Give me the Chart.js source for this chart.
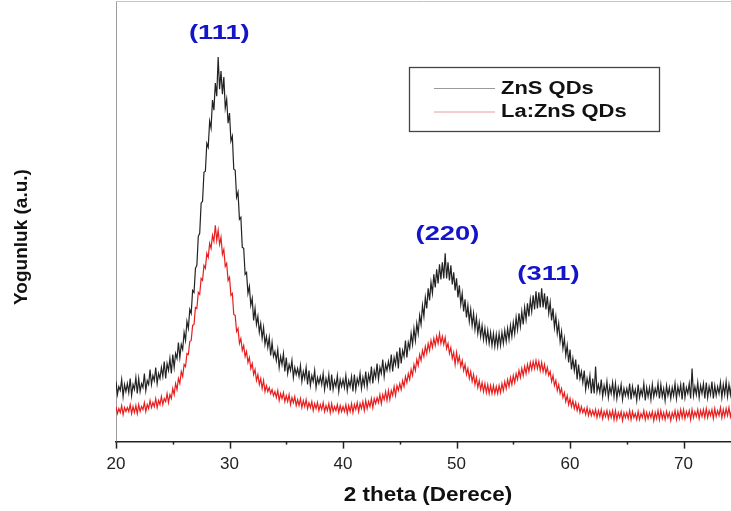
<!DOCTYPE html>
<html>
<head>
<meta charset="utf-8">
<script src="https://cdn.jsdelivr.net/npm/chart.js"></script>
<style>
    body { margin: 0; background: #fff; }
    canvas { display: block; }
</style>
</head>
<body>
<canvas id="xrdCanvas" width="731" height="511"></canvas>
<script>
// scan grid: 2 theta from 20 degrees in 0.125 degree steps
const thetaStart = 20;
const thetaStep = 0.125;

const seriesNames = ['ZnS QDs', 'La:ZnS QDs'];
const seriesColors = ['rgba(10,10,10,0.9)', 'rgba(230,18,18,0.95)'];
const legendLineColors = ['#9a9a9a', '#e89a9a'];

// intensity (a.u.), one row per degree
const znsCounts = [
    60, 47, 55, 51, 62, 45, 57, 50,
    58, 49, 63, 46, 57, 52, 64, 48,
    63, 50, 58, 54, 68, 51, 61, 57,
    72, 57, 66, 61, 74, 58, 68, 63,
    74, 65, 80, 63, 78, 71, 83, 68,
    87, 74, 88, 83, 99, 84, 97, 92,
    109, 101, 120, 113, 132, 128, 151, 149,
    173, 176, 205, 208, 238, 240, 269, 270,
    298, 294, 320, 313, 341, 331, 358, 345,
    384, 352, 370, 347, 364, 333, 342, 318,
    328, 300, 305, 272, 271, 244, 249, 222,
    224, 194, 193, 167, 169, 148, 155, 136,
    143, 121, 133, 117, 125, 109, 118, 103,
    114, 97, 105, 94, 104, 86, 99, 85,
    90, 81, 92, 74, 85, 77, 88, 70,
    84, 68, 77, 71, 81, 64, 74, 67,
    73, 65, 76, 60, 70, 63, 74, 57,
    71, 56, 66, 60, 71, 54, 64, 58,
    65, 57, 68, 52, 63, 56, 67, 51,
    67, 52, 61, 55, 66, 50, 62, 55,
    62, 54, 66, 51, 61, 55, 65, 50,
    67, 52, 63, 57, 68, 53, 64, 56,
    70, 55, 67, 60, 75, 58, 71, 64,
    78, 62, 74, 68, 82, 65, 77, 71,
    80, 72, 87, 70, 84, 77, 90, 73,
    94, 78, 91, 85, 101, 84, 99, 93,
    108, 97, 113, 101, 118, 108, 126, 117,
    136, 125, 144, 133, 153, 141, 159, 148,
    167, 154, 172, 158, 177, 162, 179, 163,
    188, 163, 179, 161, 176, 157, 169, 151,
    163, 144, 156, 137, 148, 130, 142, 124,
    136, 120, 132, 116, 128, 112, 124, 108,
    119, 105, 116, 102, 113, 100, 111, 98,
    109, 96, 108, 95, 107, 95, 108, 96,
    109, 98, 111, 100, 113, 102, 116, 105,
    119, 108, 124, 112, 128, 115, 130, 117,
    134, 122, 138, 125, 142, 130, 146, 132,
    150, 133, 149, 134, 153, 134, 148, 132,
    145, 128, 139, 121, 133, 114, 125, 108,
    118, 100, 110, 93, 103, 86, 96, 79,
    92, 72, 83, 71, 82, 62, 77, 63,
    70, 59, 71, 52, 63, 55, 66, 48,
    63, 48, 75, 50, 57, 49, 62, 45,
    56, 48, 60, 44, 55, 48, 59, 45,
    58, 43, 54, 47, 57, 42, 53, 46,
    53, 45, 58, 42, 55, 46, 52, 41,
    57, 44, 52, 46, 58, 41, 54, 45,
    54, 42, 57, 45, 53, 47, 58, 43,
    57, 45, 53, 41, 56, 46, 54, 43,
    54, 46, 58, 43, 55, 47, 57, 42,
    59, 44, 54, 48, 58, 43, 73, 46,
    55, 47, 59, 44, 56, 48, 58, 43,
    59, 44, 55, 47, 60, 43, 56, 46,
    55, 48, 59, 44, 57, 47, 60, 45,
    57, 47, 59
];
const laZnsCounts = [
    35, 28, 33, 29, 36, 27, 34, 30,
    34, 30, 37, 28, 35, 29, 36, 28,
    37, 30, 35, 32, 39, 30, 37, 33,
    41, 34, 39, 35, 43, 34, 41, 37,
    45, 37, 43, 40, 48, 39, 47, 43,
    53, 47, 58, 52, 63, 58, 70, 65,
    77, 75, 88, 87, 100, 101, 116, 117,
    134, 133, 149, 147, 163, 161, 176, 173,
    188, 184, 198, 193, 206, 200, 216, 201,
    211, 197, 204, 187, 192, 175, 178, 161,
    164, 146, 148, 127, 126, 110, 113, 98,
    103, 91, 96, 85, 90, 79, 84, 73,
    78, 67, 72, 61, 67, 57, 63, 53,
    61, 50, 56, 50, 54, 48, 52, 46,
    50, 44, 51, 41, 48, 43, 49, 40,
    46, 40, 47, 37, 44, 39, 45, 36,
    42, 36, 43, 34, 41, 35, 42, 33,
    39, 34, 40, 31, 38, 33, 39, 31,
    37, 32, 39, 30, 36, 31, 38, 29,
    38, 30, 35, 31, 37, 29, 36, 30,
    35, 30, 37, 28, 36, 30, 38, 29,
    37, 32, 39, 30, 38, 33, 40, 31,
    41, 33, 40, 35, 43, 34, 43, 38,
    44, 39, 47, 38, 47, 42, 50, 41,
    51, 42, 51, 46, 55, 46, 56, 51,
    58, 52, 61, 55, 65, 59, 68, 62,
    72, 66, 77, 71, 82, 76, 87, 81,
    91, 85, 95, 88, 98, 91, 101, 94,
    103, 96, 105, 98, 108, 98, 105, 97,
    104, 93, 98, 88, 94, 83, 89, 77,
    89, 79, 85, 75, 81, 71, 77, 67,
    73, 63, 70, 60, 67, 57, 64, 54,
    61, 52, 59, 50, 58, 49, 57, 48,
    56, 48, 56, 48, 55, 48, 56, 49,
    58, 51, 60, 53, 62, 55, 64, 57,
    66, 59, 68, 62, 71, 64, 73, 66,
    75, 68, 77, 70, 79, 72, 80, 73,
    81, 73, 80, 71, 79, 70, 77, 68,
    74, 66, 70, 60, 66, 56, 61, 51,
    57, 48, 53, 44, 49, 40, 46, 37,
    43, 35, 41, 33, 39, 31, 37, 29,
    35, 29, 33, 27, 34, 26, 32, 26,
    31, 26, 32, 24, 31, 25, 32, 23,
    30, 25, 31, 23, 30, 24, 31, 22,
    31, 22, 29, 24, 30, 21, 29, 24,
    29, 23, 31, 22, 30, 24, 28, 22,
    30, 22, 28, 24, 31, 22, 29, 23,
    29, 24, 30, 21, 29, 23, 31, 22,
    31, 23, 29, 22, 30, 24, 29, 21,
    29, 24, 31, 22, 30, 23, 32, 24,
    32, 23, 30, 25, 31, 22, 32, 24,
    30, 25, 32, 23, 31, 25, 32, 24,
    33, 24, 31, 26, 32, 23, 33, 25,
    31, 26, 34, 24, 32, 25, 33, 26,
    34, 25, 32
];

// reflections marked above the peaks
const peakLabels = ['(111)', '(220)', '(311)'];
const peakTheta = [29.1, 49.2, 58.1];
const peakLabelLevel = [408, 207, 167];

const xTicks = [20, 30, 40, 50, 60, 70];
const xMinorTicks = [25, 35, 45, 55, 65];

const fontFamily = '"Liberation Sans", Arial, sans-serif';

let toPoints = function (counts) {
    return counts.map(function (v, i) {
        return { x: thetaStart + i * thetaStep, y: v };
    });
};

// text stretched sideways a little, like the labels of the original plot
let wideText = function (ctx, text, x, y, sx) {
    ctx.save();
    ctx.translate(x, y);
    ctx.scale(sx, 1);
    ctx.fillText(text, 0, 0);
    ctx.restore();
};

let decorations = {
    id: 'decorations',
    afterDraw: function (chart) {
        let ctx = chart.ctx;
        let area = chart.chartArea;
        let xs = chart.scales.x;
        let ys = chart.scales.y;

        ctx.save();

        // top frame line
        ctx.strokeStyle = '#c4c4c4';
        ctx.lineWidth = 1;
        ctx.beginPath();
        ctx.moveTo(area.left, area.top + 0.5);
        ctx.lineTo(area.right, area.top + 0.5);
        ctx.stroke();

        // tick marks under the x axis
        ctx.strokeStyle = '#222';
        ctx.lineWidth = 1.5;
        xTicks.concat(xMinorTicks).forEach(function (v) {
            let px = Math.round(xs.getPixelForValue(v)) + 0.5;
            let len = xTicks.indexOf(v) >= 0 ? 7 : 3;
            ctx.beginPath();
            ctx.moveTo(px, area.bottom);
            ctx.lineTo(px, area.bottom + len);
            ctx.stroke();
        });

        // axis titles
        ctx.fillStyle = '#111';
        ctx.textAlign = 'center';
        ctx.textBaseline = 'middle';
        ctx.font = 'bold 21px ' + fontFamily;
        wideText(ctx, '2 theta (Derece)', 428, 495, 1.07);

        ctx.save();
        ctx.translate(22, 237);
        ctx.rotate(-Math.PI / 2);
        ctx.font = 'bold 19px ' + fontFamily;
        ctx.fillText('Yogunluk (a.u.)', 0, 0);
        ctx.restore();

        // peak labels
        ctx.fillStyle = '#1414c8';
        ctx.font = 'bold 21px ' + fontFamily;
        peakLabels.forEach(function (label, i) {
            wideText(ctx, label, xs.getPixelForValue(peakTheta[i]), ys.getPixelForValue(peakLabelLevel[i]), 1.3);
        });

        // legend box
        ctx.strokeStyle = '#444';
        ctx.lineWidth = 1.3;
        ctx.strokeRect(409.5, 67.5, 250, 64);
        ctx.textAlign = 'left';
        ctx.fillStyle = '#111';
        ctx.font = 'bold 18px ' + fontFamily;
        chart.data.datasets.forEach(function (ds, i) {
            let ly = 88 + i * 23.5;
            ctx.strokeStyle = legendLineColors[i];
            ctx.lineWidth = 1;
            ctx.beginPath();
            ctx.moveTo(434, ly + 0.5);
            ctx.lineTo(495, ly + 0.5);
            ctx.stroke();
            wideText(ctx, ds.label, 501, ly + 1, 1.22);
        });

        ctx.restore();
    }
};

let xrdChartDraw = function () {
    let ctx = document.getElementById('xrdCanvas').getContext('2d');

    window.xrdChart = new Chart(ctx, {
        type: 'line',
        data: {
            datasets: [{
                label: seriesNames[0],
                data: toPoints(znsCounts),
                borderColor: seriesColors[0],
                borderWidth: 1.2,
                pointRadius: 0,
                tension: 0
            }, {
                label: seriesNames[1],
                data: toPoints(laZnsCounts),
                borderColor: seriesColors[1],
                borderWidth: 1.2,
                pointRadius: 0,
                tension: 0
            }]
        },
        options: {
            responsive: false,
            animation: false,
            layout: {
                padding: { left: 108, right: 0, top: 1, bottom: 31 }
            },
            plugins: {
                legend: { display: false },
                tooltip: { enabled: false }
            },
            scales: {
                x: {
                    type: 'linear',
                    min: 20,
                    max: 74.18,
                    afterBuildTicks: function (scale) {
                        scale.ticks = xTicks.map(function (v) { return { value: v }; });
                    },
                    grid: { display: false },
                    border: { display: true, color: '#222', width: 1.5 },
                    ticks: {
                        padding: 5,
                        color: '#222',
                        maxRotation: 0,
                        autoSkip: false,
                        font: { size: 17, family: fontFamily }
                    }
                },
                y: {
                    min: 0,
                    max: 440,
                    grid: { display: false },
                    ticks: { display: false },
                    border: { display: true, color: '#9a9a9a', width: 1 }
                }
            }
        },
        plugins: [decorations]
    });
};

window.onload = function () {
    xrdChartDraw();
};
</script>
</body>
</html>
